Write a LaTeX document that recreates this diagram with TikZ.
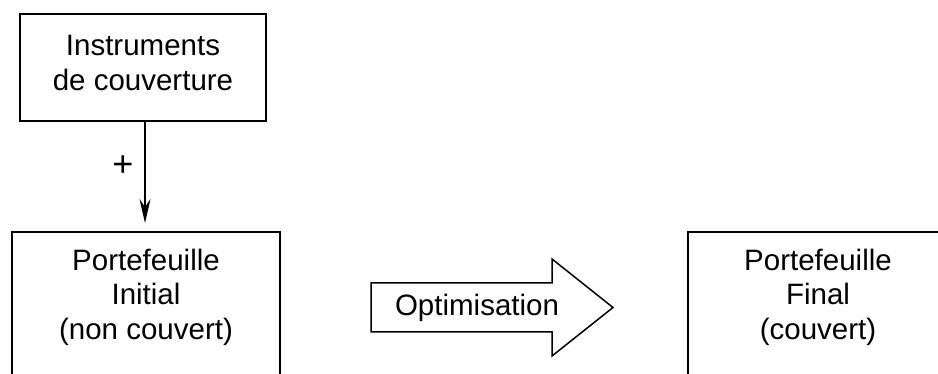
\documentclass[tikz,border=0pt]{standalone}
\usepackage{fontspec}
\setmainfont{Liberation Sans}
\usetikzlibrary{arrows.meta}
\begin{document}
\begin{tikzpicture}[x=1pt,y=-1pt,
  boxshape/.style={draw,line width=1.6pt,rectangle,inner sep=0pt},
  txt/.style={font=\fontsize{29.5}{34.5}\selectfont,align=center,inner sep=0pt},
  conn/.style={line width=1.3pt,-{Stealth[length=24pt,width=11pt,inset=8pt]}}]
\useasboundingbox (0,0) rectangle (938,374);
\clip (0,0) rectangle (938,374);
% top box
\node[boxshape,minimum width=246pt,minimum height=107pt] (ic) at (143,67.5) {};
\node[txt] (ict) at (143,63) {Instruments\\de couverture};
% bottom-left box (cut at the bottom)
\node[boxshape,minimum width=268pt,minimum height=200pt] (pi) at (146,332) {};
\node[txt] (pit) at (146,297) {Portefeuille\\Initial\\(non couvert)};
% bottom-right box (cut at the bottom and right)
\node[boxshape,minimum width=260pt,minimum height=200pt] (pf) at (818,332) {};
\node[txt] (pft) at (818,297) {Portefeuille\\Final\\(couvert)};
% vertical arrow
\coordinate (a0) at (145,122);
\coordinate (a1) at (145,223);
\draw[conn] (a0) -- (a1);
\node[txt,font=\fontsize{36}{40}\selectfont] (plus) at (123,166) {+};
% big arrow
\draw[line width=1.5pt,line join=miter] (371,283) -- (552,283) -- (552,259) -- (613,307.5) -- (552,356) -- (552,332) -- (371,332) -- cycle;
\node[txt] (opt) at (477,307.5) {Optimisation};
\end{tikzpicture}
\end{document}
